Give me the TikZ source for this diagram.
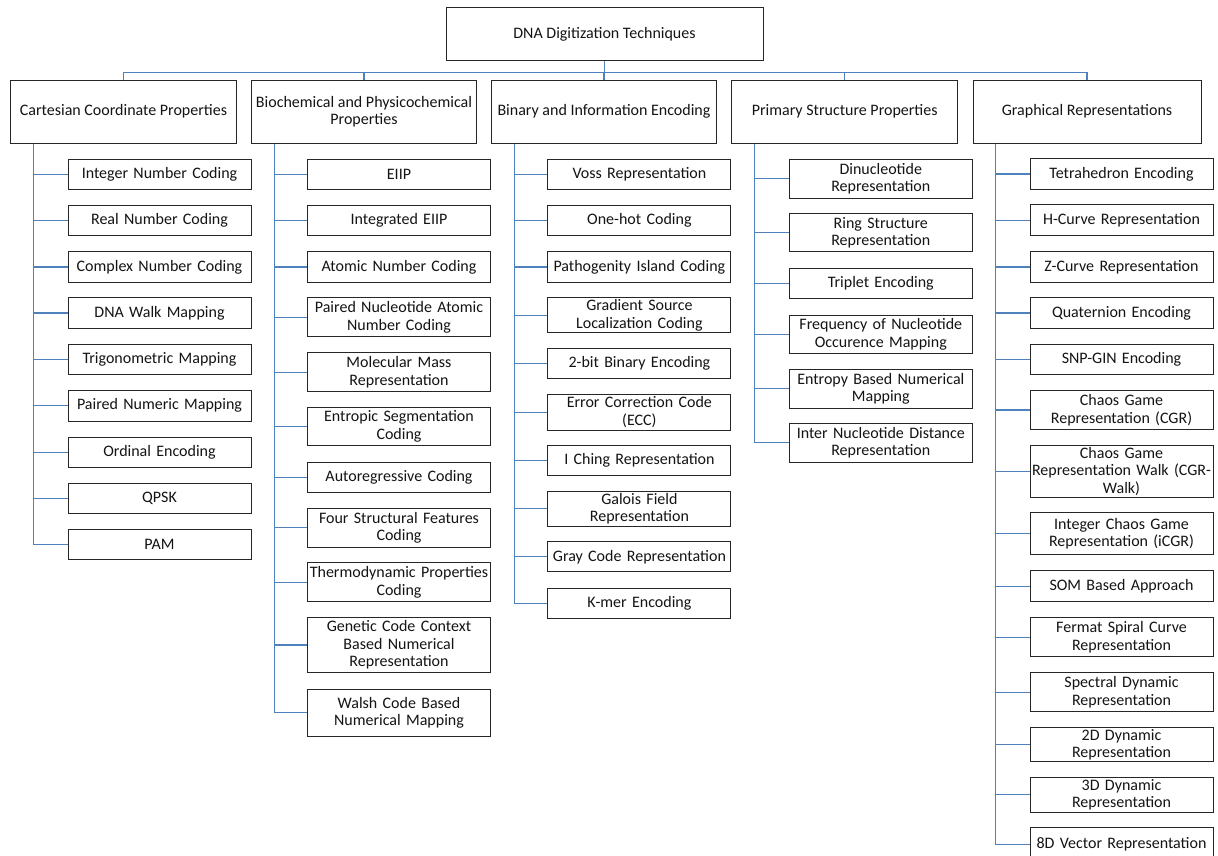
\documentclass[tikz,border=0pt]{standalone}
\usepackage{fontspec}
\setmainfont{Carlito}
\definecolor{linkblue}{RGB}{79,129,189}
\definecolor{txt}{RGB}{20,20,20}
\newcommand\kid[6]{%
  \node[kid, minimum height=#5pt] (#1) at (#3,#4) {#6};
  \draw[link] ([xshift=23pt]#2.south west) |- (#1.west);}
\begin{document}
\begin{tikzpicture}[x=1pt,y=-1pt,
  box/.style={draw=black!85, line width=1pt, align=center, inner sep=0pt,
    font=\fontsize{16}{17.5}\selectfont, text=txt},
  cat/.style={box, minimum height=63.3pt},
  kid/.style={box, minimum width=183pt, text width=181pt},
  link/.style={draw=linkblue, line width=1.2pt}]
\useasboundingbox (0,0) rectangle (1218,856);
\fill[white] (0,0) rectangle (1218,856);

\node[box, minimum width=317pt, minimum height=52.7pt] (root) at (604.5,34.3) {DNA Digitization Techniques};

\node[cat, minimum width=225.6pt] (c1) at (123.5,111.7) {Cartesian Coordinate Properties};
\node[cat, minimum width=224.6pt] (c2) at (364,111.7) {Biochemical and Physicochemical\\Properties};
\node[cat, minimum width=224.6pt] (c3) at (604,111.7) {Binary and Information Encoding};
\node[cat, minimum width=226pt] (c4) at (844.7,111.7) {Primary Structure Properties};
\node[cat, minimum width=228pt] (c5) at (1087,111.7) {Graphical Representations};

\foreach \c in {c1,c2,c3,c4,c5}
  \draw[link] (root.south) -- ++(0,11.3) -| (\c.north);

% Cartesian
\kid{a1}{c1}{159.5}{174.3}{30.5}{Integer Number Coding}
\kid{a2}{c1}{159.5}{220.7}{30.5}{Real Number Coding}
\kid{a3}{c1}{159.5}{267}{30.5}{Complex Number Coding}
\kid{a4}{c1}{159.5}{313}{30.5}{DNA Walk Mapping}
\kid{a5}{c1}{159.5}{359.7}{30.5}{Trigonometric Mapping}
\kid{a6}{c1}{159.5}{405.8}{30.5}{Paired Numeric Mapping}
\kid{a7}{c1}{159.5}{452.3}{30.5}{Ordinal Encoding}
\kid{a8}{c1}{159.5}{498.5}{30.5}{QPSK}
\kid{a9}{c1}{159.5}{544.3}{30.5}{PAM}

% Biochemical
\kid{b1}{c2}{399}{174.3}{30.5}{EIIP}
\kid{b2}{c2}{399}{220.7}{30.5}{Integrated EIIP}
\kid{b3}{c2}{399}{267}{30.5}{Atomic Number Coding}
\kid{b4}{c2}{399}{317.2}{39}{Paired Nucleotide Atomic\\Number Coding}
\kid{b5}{c2}{399}{372.3}{39}{Molecular Mass\\Representation}
\kid{b6}{c2}{399}{426.5}{37.6}{Entropic Segmentation\\Coding}
\kid{b7}{c2}{399}{477.5}{30.4}{Autoregressive Coding}
\kid{b8}{c2}{399}{527.8}{39}{Four Structural Features\\Coding}
\kid{b9}{c2}{399}{582.3}{39.3}{Thermodynamic Properties\\Coding}
\kid{b10}{c2}{399}{645}{54.6}{Genetic Code Context\\Based Numerical\\Representation}
\kid{b11}{c2}{399}{712.7}{46.7}{Walsh Code Based\\Numerical Mapping}

% Binary
\kid{d1}{c3}{639.4}{174.3}{30.5}{Voss Representation}
\kid{d2}{c3}{639.4}{220.7}{30.5}{One-hot Coding}
\kid{d3}{c3}{639.4}{267}{30.5}{Pathogenity Island Coding}
\kid{d4}{c3}{639.4}{315.2}{35}{Gradient Source\\Localization Coding}
\kid{d5}{c3}{639.4}{363.3}{30}{2-bit Binary Encoding}
\kid{d6}{c3}{639.4}{412.2}{35.7}{Error Correction Code\\(ECC)}
\kid{d7}{c3}{639.4}{460.7}{30}{I Ching Representation}
\kid{d8}{c3}{639.4}{508.7}{34.7}{Galois Field\\Representation}
\kid{d9}{c3}{639.4}{556.8}{30.3}{Gray Code Representation}
\kid{d10}{c3}{639.4}{603.5}{30.3}{K-mer Encoding}

% Primary
\kid{e1}{c4}{880.8}{178.7}{39.3}{Dinucleotide\\Representation}
\kid{e2}{c4}{880.8}{232.8}{37.7}{Ring Structure\\Representation}
\kid{e3}{c4}{880.8}{283.5}{30.3}{Triplet Encoding}
\kid{e4}{c4}{880.8}{334.5}{37.7}{Frequency of Nucleotide\\Occurence Mapping}
\kid{e5}{c4}{880.8}{388.8}{39}{Entropy Based Numerical\\Mapping}
\kid{e6}{c4}{880.8}{442.8}{39}{Inter Nucleotide Distance\\Representation}

% Graphical
\kid{g1}{c5}{1121.5}{174}{30.6}{Tetrahedron Encoding}
\kid{g2}{c5}{1121.5}{220.3}{31.3}{H-Curve Representation}
\kid{g3}{c5}{1121.5}{267}{30.5}{Z-Curve Representation}
\kid{g4}{c5}{1121.5}{313}{30.5}{Quaternion Encoding}
\kid{g5}{c5}{1121.5}{359.5}{30.5}{SNP-GIN Encoding}
\kid{g6}{c5}{1121.5}{410}{38.6}{Chaos Game\\Representation (CGR)}
\kid{g7}{c5}{1121.5}{471.5}{51.6}{Chaos Game\\Representation Walk (CGR-\\Walk)}
\kid{g8}{c5}{1121.5}{533.8}{42.3}{Integer Chaos Game\\Representation (iCGR)}
\kid{g9}{c5}{1121.5}{586.3}{30.7}{SOM Based Approach}
\kid{g10}{c5}{1121.5}{637.2}{39}{Fermat Spiral Curve\\Representation}
\kid{g11}{c5}{1121.5}{692.2}{39}{Spectral Dynamic\\Representation}
\kid{g12}{c5}{1121.5}{744.7}{34}{2D Dynamic\\Representation}
\kid{g13}{c5}{1121.5}{794.8}{35}{3D Dynamic\\Representation}
\kid{g14}{c5}{1121.5}{844.2}{33.7}{8D Vector Representation}
\end{tikzpicture}
\end{document}
